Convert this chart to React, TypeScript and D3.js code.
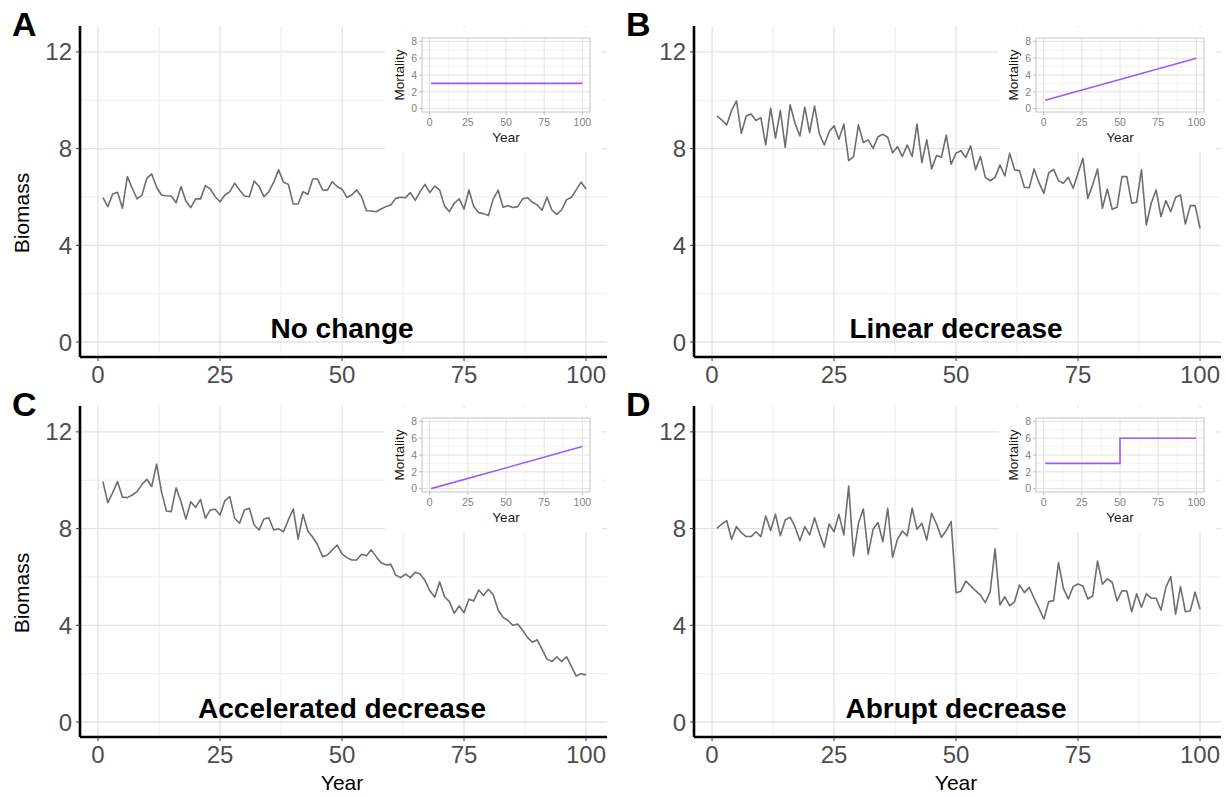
import React from "react";
import * as d3 from "d3";

const years = d3.range(1, 101);
const xTicks = [0, 25, 50, 75, 100];
const xMinor = [12.5, 37.5, 62.5, 87.5];
const yTicks = [0, 4, 8, 12];
const yMinor = [2, 6, 10];
const insetYTicks = [0, 2, 4, 6, 8];
const insetYMinor = [1, 3, 5, 7];

const biomassA = [
  5.97, 5.6, 6.12, 6.19, 5.53, 6.84, 6.36, 5.92, 6.08, 6.77,
  6.95, 6.4, 6.08, 6.05, 6.04, 5.76, 6.43, 5.83, 5.56, 5.92,
  5.92, 6.47, 6.33, 6.01, 5.8, 6.08, 6.22, 6.57, 6.29, 6.04,
  6.01, 6.66, 6.43, 6.01, 6.22, 6.61, 7.12, 6.61, 6.52, 5.71,
  5.71, 6.22, 6.11, 6.74, 6.74, 6.29, 6.28, 6.63, 6.43, 6.32,
  5.98, 6.08, 6.29, 6.01, 5.43, 5.42, 5.39, 5.5, 5.6, 5.67,
  5.94, 5.99, 5.97, 6.18, 5.86, 6.22, 6.52, 6.18, 6.45, 6.29,
  5.63, 5.39, 5.74, 5.92, 5.5, 6.29, 5.6, 5.35, 5.31, 5.23,
  5.92, 6.28, 5.57, 5.64, 5.56, 5.6, 5.92, 5.97, 5.78, 5.67,
  5.45, 5.99, 5.46, 5.28, 5.46, 5.88, 5.99, 6.29, 6.61, 6.33,
];
const biomassB = [
  9.35, 9.18, 8.98, 9.57, 9.97, 8.63, 9.35, 9.43, 9.16, 9.28,
  8.15, 9.67, 8.43, 9.57, 8.05, 9.81, 9.05, 8.52, 9.71, 8.66,
  9.76, 8.61, 8.15, 8.7, 8.94, 8.39, 9.01, 7.5, 7.67, 8.98,
  8.25, 8.36, 8.01, 8.49, 8.59, 8.47, 7.83, 8.08, 7.67, 8.15,
  7.67, 9.01, 7.42, 8.36, 7.16, 7.71, 7.64, 8.56, 7.35, 7.81,
  7.91, 7.63, 8.11, 7.12, 7.67, 6.81, 6.67, 6.81, 7.32, 6.87,
  7.81, 7.12, 7.09, 6.4, 6.38, 7.16, 6.59, 6.15, 7.0, 7.14,
  6.67, 6.57, 6.81, 6.36, 6.98, 7.6, 5.94, 6.5, 7.16, 5.53,
  6.33, 5.49, 5.57, 6.84, 6.84, 5.74, 5.78, 7.12, 4.84, 5.74,
  6.29, 5.18, 5.85, 5.39, 5.99, 6.08, 4.88, 5.64, 5.64, 4.7,
];
const biomassC = [
  9.94, 9.07, 9.49, 9.94, 9.3, 9.28, 9.39, 9.53, 9.83, 10.04,
  9.74, 10.67, 9.53, 8.73, 8.7, 9.69, 9.11, 8.39, 9.11, 8.88,
  9.21, 8.43, 8.77, 8.8, 8.56, 9.16, 9.32, 8.43, 8.22, 8.77,
  8.84, 8.15, 7.94, 8.4, 8.45, 7.94, 7.99, 7.87, 8.36, 8.81,
  7.56, 8.59, 7.9, 7.64, 7.32, 6.84, 6.91, 7.12, 7.32, 6.95,
  6.8, 6.7, 6.7, 6.94, 6.88, 7.12, 6.84, 6.59, 6.5, 6.52,
  6.08, 5.97, 6.12, 5.97, 6.19, 6.12, 5.85, 5.43, 5.16, 5.8,
  5.18, 4.98, 4.5, 4.8, 4.52, 5.08, 5.01, 5.46, 5.23, 5.49,
  5.25, 4.63, 4.33, 4.2, 4.0, 4.05, 3.8, 3.5, 3.3, 3.4,
  3.0, 2.6, 2.5, 2.7, 2.5, 2.7, 2.3, 1.9, 2.0, 1.95,
];
const biomassD = [
  8.01, 8.19, 8.33, 7.56, 8.08, 7.83, 7.67, 7.67, 7.87, 7.67,
  8.52, 7.92, 8.59, 7.7, 8.36, 8.47, 8.08, 7.5, 8.08, 7.74,
  8.45, 7.81, 7.23, 8.19, 7.87, 8.59, 7.74, 9.76, 6.87, 8.22,
  8.81, 6.94, 7.97, 8.25, 7.46, 8.84, 6.81, 7.56, 7.9, 7.7,
  8.84, 7.97, 8.22, 7.53, 8.63, 8.19, 7.63, 7.92, 8.29, 5.35,
  5.41, 5.83, 5.63, 5.43, 5.25, 4.94, 5.39, 7.16, 4.84, 5.18,
  4.8, 4.98, 5.67, 5.35, 5.57, 5.12, 4.7, 4.26, 4.98, 5.02,
  6.59, 5.53, 5.09, 5.6, 5.71, 5.63, 5.09, 5.21, 6.66, 5.7,
  5.92, 5.78, 5.01, 5.43, 5.42, 4.56, 5.3, 4.75, 5.3, 5.12,
  5.12, 4.63, 5.57, 6.01, 4.46, 5.6, 4.56, 4.6, 5.37, 4.66,
];

const mortalityA: [number, number][] = [[1, 3], [100, 3]];
const mortalityB: [number, number][] = [[1, 1], [100, 6]];
const mortalityC: [number, number][] = [[1, 0], [100, 5]];
const mortalityD: [number, number][] = [[1, 3], [50, 3], [50, 6], [100, 6]];

const panels = [
  { letter: "A", title: "No change", biomass: biomassA, mortality: mortalityA, ox: 0, oy: 0, yLab: true, xLab: false },
  { letter: "B", title: "Linear decrease", biomass: biomassB, mortality: mortalityB, ox: 614, oy: 0, yLab: false, xLab: false },
  { letter: "C", title: "Accelerated decrease", biomass: biomassC, mortality: mortalityC, ox: 0, oy: 380, yLab: true, xLab: true },
  { letter: "D", title: "Abrupt decrease", biomass: biomassD, mortality: mortalityD, ox: 614, oy: 380, yLab: false, xLab: true },
];

const FONT = "'Liberation Sans', Arial, Helvetica, sans-serif";
const LINE = "#6e6e6e";
const PURPLE = "#9a5cf2";

function Panel({ p }: { p: typeof panels[number] }) {
  const L = 80, R = 607, T = 26, B = 357;
  const x = d3.scaleLinear().domain([-3.7, 104.3]).range([L, R]);
  const y = d3.scaleLinear().domain([-0.62, 13.07]).range([B, T]);
  const line = d3.line<number>().x((_, i) => x(years[i])).y((d) => y(d));

  // inset
  const iL = 422, iR = 590, iT = 38, iB = 112;
  const ix = d3.scaleLinear().domain([-5, 105]).range([iL, iR]);
  const iy = d3.scaleLinear().domain([-0.4, 8.4]).range([iB, iT]);
  const iline = d3.line<[number, number]>().x((d) => ix(d[0])).y((d) => iy(d[1]));

  return (
    <g transform={`translate(${p.ox},${p.oy})`} fontFamily={FONT}>
      {/* grid */}
      {xMinor.map((v) => (
        <line key={"xm" + v} x1={x(v)} x2={x(v)} y1={T} y2={B} stroke="#ededed" strokeWidth={1} />
      ))}
      {yMinor.map((v) => (
        <line key={"ym" + v} x1={L} x2={R} y1={y(v)} y2={y(v)} stroke="#ededed" strokeWidth={1} />
      ))}
      {xTicks.map((v) => (
        <line key={"xg" + v} x1={x(v)} x2={x(v)} y1={T} y2={B} stroke="#e3e3e3" strokeWidth={1.3} />
      ))}
      {yTicks.map((v) => (
        <line key={"yg" + v} x1={L} x2={R} y1={y(v)} y2={y(v)} stroke="#e3e3e3" strokeWidth={1.3} />
      ))}
      {/* series */}
      <path d={line(p.biomass) || ""} fill="none" stroke={LINE} strokeWidth={1.6} strokeLinejoin="round" />
      {/* axes */}
      <line x1={L} x2={L} y1={T} y2={B} stroke="#000" strokeWidth={2.6} />
      <line x1={L} x2={R} y1={B} y2={B} stroke="#000" strokeWidth={2.6} />
      {yTicks.map((v) => (
        <g key={"yt" + v}>
          <line x1={L - 4} x2={L} y1={y(v)} y2={y(v)} stroke="#333" strokeWidth={1} />
          <text x={L - 8} y={y(v) + 8.5} textAnchor="end" fontSize={24} fill="#4d4d4d">{v}</text>
        </g>
      ))}
      {xTicks.map((v) => (
        <g key={"xt" + v}>
          <line x1={x(v)} x2={x(v)} y1={B} y2={B + 4} stroke="#333" strokeWidth={1} />
          <text x={x(v)} y={B + 26} textAnchor="middle" fontSize={24} fill="#4d4d4d">{v}</text>
        </g>
      ))}
      {/* title */}
      <text x={x(50)} y={338} textAnchor="middle" fontSize={28} fontWeight="bold" fill="#000">{p.title}</text>
      {/* letter */}
      <text x={12} y={36} fontSize={34} fontWeight="bold" fill="#000">{p.letter}</text>
      {p.yLab && (
        <text transform={`translate(29,213) rotate(-90)`} textAnchor="middle" fontSize={21} fill="#000">Biomass</text>
      )}
      {p.xLab && (
        <text x={x(50)} y={410} textAnchor="middle" fontSize={21} fill="#000">Year</text>
      )}
      {/* inset */}
      <rect x={385} y={28} width={217} height={124} fill="#fff" />
      {xMinor.map((v) => (
        <line key={"ixm" + v} x1={ix(v)} x2={ix(v)} y1={iT} y2={iB} stroke="#f0f0f0" strokeWidth={0.8} />
      ))}
      {insetYMinor.map((v) => (
        <line key={"iym" + v} x1={iL} x2={iR} y1={iy(v)} y2={iy(v)} stroke="#f0f0f0" strokeWidth={0.8} />
      ))}
      {xTicks.map((v) => (
        <line key={"ixg" + v} x1={ix(v)} x2={ix(v)} y1={iT} y2={iB} stroke="#e2e2e2" strokeWidth={1} />
      ))}
      {insetYTicks.map((v) => (
        <line key={"iyg" + v} x1={iL} x2={iR} y1={iy(v)} y2={iy(v)} stroke="#e2e2e2" strokeWidth={1} />
      ))}
      <rect x={iL} y={iT} width={iR - iL} height={iB - iT} fill="none" stroke="#c4c4c4" strokeWidth={1} />
      <path d={iline(p.mortality) || ""} fill="none" stroke={PURPLE} strokeWidth={1.6} />
      {insetYTicks.map((v) => (
        <g key={"iyt" + v}>
          <line x1={iL - 3} x2={iL} y1={iy(v)} y2={iy(v)} stroke="#b0b0b0" strokeWidth={0.8} />
          <text x={iL - 5} y={iy(v) + 3.8} textAnchor="end" fontSize={10.5} fill="#7f7f7f">{v}</text>
        </g>
      ))}
      {xTicks.map((v) => (
        <g key={"ixt" + v}>
          <line x1={ix(v)} x2={ix(v)} y1={iB} y2={iB + 3} stroke="#b0b0b0" strokeWidth={0.8} />
          <text x={ix(v)} y={iB + 14} textAnchor="middle" fontSize={10.5} fill="#7f7f7f">{v}</text>
        </g>
      ))}
      <text transform={`translate(404,75) rotate(-90)`} textAnchor="middle" fontSize={13.5} fill="#1a1a1a">Mortality</text>
      <text x={ix(50)} y={142} textAnchor="middle" fontSize={13.5} fill="#1a1a1a">Year</text>
    </g>
  );
}

export default function App() {
  return (
    <svg width={1226} height={797} style={{ display: "block", position: "absolute", left: 0, top: 0, background: "#fff" }}>
      <rect width={1226} height={797} fill="#fff" />
      {panels.map((p) => (
        <Panel key={p.letter} p={p} />
      ))}
    </svg>
  );
}
